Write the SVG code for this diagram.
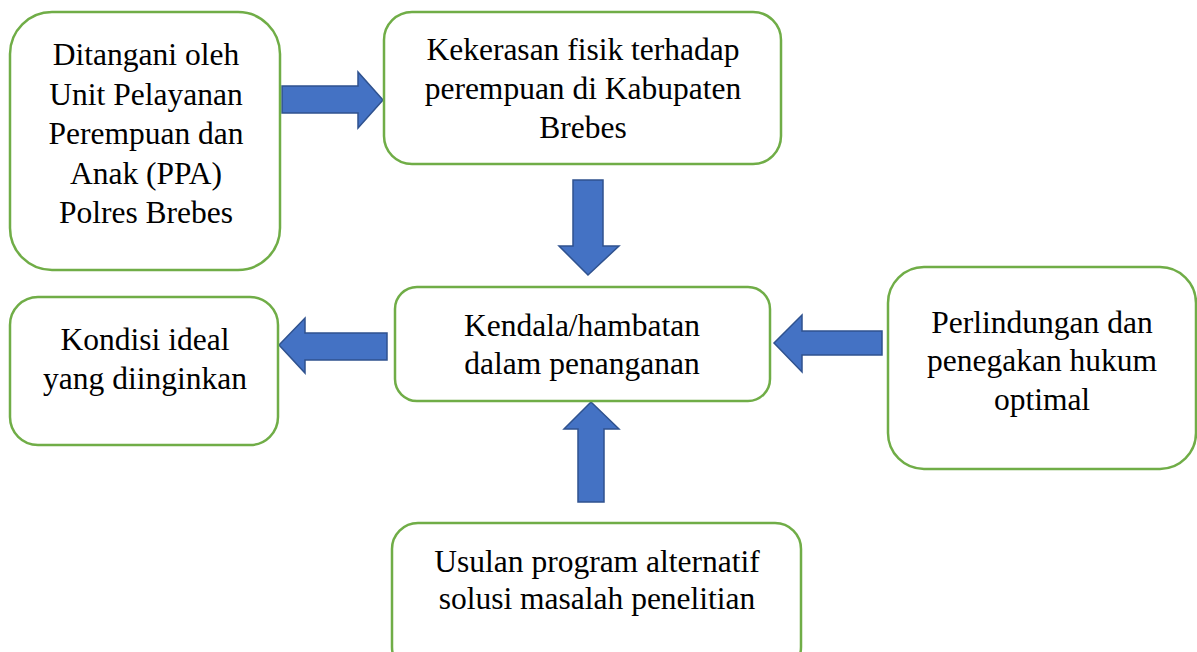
<svg xmlns="http://www.w3.org/2000/svg" width="1197" height="652" viewBox="0 0 1197 652">
<style>
.box{fill:#fff;stroke:#70AD47;stroke-width:2.5}
.arr{fill:#4472C4;stroke:#2F528F;stroke-width:1.5;stroke-linejoin:miter}
text{font-family:"Liberation Serif","Times New Roman",serif;font-size:31.5px;fill:#000;text-anchor:middle}
</style>
<rect width="1197" height="652" fill="#fff"/>
<g id="connectors">
<polygon class="arr" points="282,86 358,86 358,72 383,100 358,128 358,113 282,113"/>
<polygon class="arr" points="573,180 603,180 603,246 619,246 588,275 559,246 573,246"/>
<polygon class="arr" points="387,333 305,333 305,318 279,345 305,373 305,360 387,360"/>
<polygon class="arr" points="882,331 802,331 802,315 774,343 802,372 802,355 882,355"/>
<polygon class="arr" points="578,502 604,502 604,429 619,429 591,402 564,429 578,429"/>
</g>
<g id="n1">
<rect class="box" x="10" y="12" width="270" height="258" rx="42"/>
<text x="146" y="65">Ditangani oleh</text>
<text x="146" y="104.5">Unit Pelayanan</text>
<text x="146" y="144">Perempuan dan</text>
<text x="146" y="183.5">Anak (PPA)</text>
<text x="146" y="223">Polres Brebes</text>
</g>
<g id="n2">
<rect class="box" x="384" y="12" width="397" height="152" rx="28"/>
<text x="583" y="60">Kekerasan fisik terhadap</text>
<text x="583" y="99">perempuan di Kabupaten</text>
<text x="583" y="138">Brebes</text>
</g>
<g id="n3">
<rect class="box" x="10" y="297" width="268" height="148" rx="28"/>
<text x="145" y="350">Kondisi ideal</text>
<text x="145" y="389">yang diinginkan</text>
</g>
<g id="n4">
<rect class="box" x="395" y="287" width="375" height="114" rx="22"/>
<text x="582" y="336">Kendala/hambatan</text>
<text x="582" y="374">dalam penanganan</text>
</g>
<g id="n5">
<rect class="box" x="888" y="267" width="308" height="202" rx="36"/>
<text x="1042" y="333">Perlindungan dan</text>
<text x="1042" y="371">penegakan hukum</text>
<text x="1042" y="410">optimal</text>
</g>
<g id="n6">
<rect class="box" x="392" y="523" width="409" height="150" rx="26"/>
<text x="597" y="572">Usulan program alternatif</text>
<text x="597" y="609">solusi masalah penelitian</text>
</g>
</svg>
